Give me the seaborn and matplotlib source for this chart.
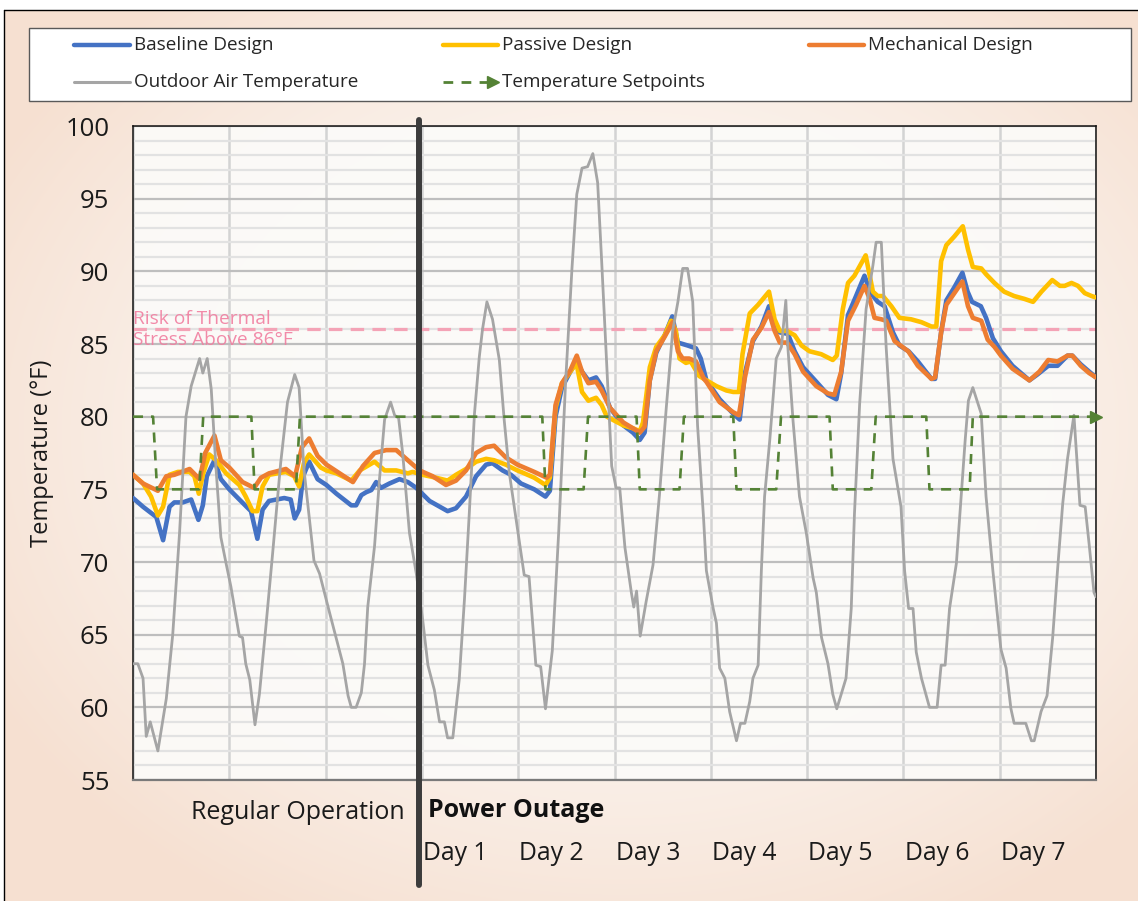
import numpy as np
import pandas as pd
import matplotlib
matplotlib.use("Agg")
import matplotlib.pyplot as plt
import seaborn as sns
from matplotlib.patches import Rectangle

# ---------------- data (hours since start, temperature in °F) ----------------
outdoor_hours = [0, 1.2, 2.5, 3.3, 4.3, 6.2, 8.3, 9.9, 11.6, 13.2, 14.5, 16.6, 17.4, 18.5, 19.5,
                 20.7, 21.9, 23.2, 24.4, 26.5, 27.3, 28.1, 29.1, 30.4, 31.5, 33.1, 34.8, 36.8,
                 38.5, 40.3, 41.4, 42.6, 45.1, 46.5, 49.0, 52.3, 53.6, 54.4, 55.6, 56.9, 57.7,
                 58.5, 60.2, 61.4, 62.7, 64.2, 65.2, 66.2, 67.2, 68.9, 70.6, 72.2, 73.5, 75.1,
                 76.4, 77.6, 78.4, 79.7, 81.3, 82.6, 83.8, 85.1, 86.3, 87.1, 88.2, 89.6, 91.3,
                 92.5, 93.8, 95.8, 97.5, 98.7, 100.4, 101.6, 102.8, 104.5, 106.1, 107.8, 109.4,
                 110.6, 111.9, 113.3, 114.6, 115.8, 116.8, 118.1, 119.3, 120.4, 121.3, 122.6,
                 124.2, 124.8, 125.5, 126.4, 127.9, 129.6, 131.2, 132.9, 134.5, 135.8, 137.0,
                 138.2, 139.5, 140.7, 142.2, 142.9, 144.6, 145.4, 146.2, 147.5, 148.7, 150.4,
                 151.4, 152.5, 153.7, 154.5, 155.8, 156.6, 157.4, 158.7, 160.3, 161.6, 162.7,
                 163.2, 164.5, 166.1, 167.8, 169.5, 170.3, 171.6, 173.2, 174.4, 175.4, 176.5,
                 177.7, 179.0, 179.8, 181.1, 182.7, 184.4, 185.2, 186.5, 187.7, 189.4, 190.6,
                 191.4, 192.3, 193.3, 194.4, 195.2, 196.5, 198.5, 200.4, 201.4, 202.4, 203.5,
                 205.2, 206.4, 207.4, 208.2, 209.3, 211.4, 212.6, 214.3, 216.3, 217.6, 218.8,
                 219.6, 222.5, 223.9, 224.6, 226.3, 227.8, 229.2, 230.4, 231.7, 232.9, 234.5,
                 236.0, 237.3, 238.3, 239.5, 240.0]
outdoor_temp = [63, 63, 62, 58, 59, 57, 60.6, 65, 72, 80, 82.1, 84, 83, 84, 81.9,
                76.4, 71.7, 69.9, 68.3, 64.9, 64.8, 63, 61.9, 58.8, 60.9, 65.5, 70.6, 76.8,
                81, 82.9, 82, 76.4, 70.1, 69.2, 66.5, 63, 60.8, 60, 60, 61, 63,
                66.9, 71.1, 75.6, 79.8, 81, 80.1, 79.9, 77.5, 72, 69.2, 66, 62.9, 61.2,
                59, 59, 57.9, 57.9, 61.9, 67.4, 73.3, 80.2, 84.1, 86, 87.9, 86.7, 83.9,
                79.8, 76.1, 72.3, 69.1, 69, 62.9, 62.8, 59.9, 63.9, 72.1, 82.3, 90.2,
                95.3, 97.1, 97.2, 98.1, 96.1, 90.7, 83.4, 76.6, 75.1, 75.1, 71,
                67.9, 66.9, 68, 64.9, 67.3, 69.8, 74.6, 80.6, 85.9, 87.9, 90.2,
                90.2, 87.9, 79.4, 73, 69.4, 66.8, 65.8, 62.7, 62, 59.7, 57.7,
                58.9, 58.9, 60.4, 62, 62.9, 69.4, 74.5, 78.4, 84, 84.8, 88,
                84.8, 79.7, 74.5, 72, 68.9, 67.9, 64.8, 63, 60.9, 59.9, 60.9,
                62, 66.8, 73.3, 80.9, 87.4, 90.4, 92, 92, 84.8, 77.1, 75.1,
                73.8, 69.4, 66.8, 66.8, 63.8, 62, 60, 60, 62.9, 62.9, 66.8,
                69.9, 74.5, 78.4, 81.1, 82, 80.2, 74.5, 69.4, 64, 62.7, 59.9,
                58.9, 58.9, 57.7, 57.7, 59.7, 60.8, 64.8, 69.4, 74, 77.1, 80.1,
                73.9, 73.8, 71.2, 67.9, 67.6]

baseline_hours = [0, 2.5, 5.8, 7.5, 9.1, 10.3, 12.4, 14.5, 16.3, 17.4, 18.4, 20.3, 21.9, 24.0,
                  26.5, 29.4, 31.0, 32.3, 33.9, 37.7, 39.3, 40.3, 41.4, 42.4, 43.9, 46.0, 48.2,
                  50.7, 54.4, 55.6, 56.9, 58.1, 59.4, 60.6, 61.8, 63.9, 66.4, 68.5, 70.6, 73.9,
                  78.4, 80.5, 83.0, 85.5, 88.0, 89.6, 92.1, 94.2, 96.7, 100.0, 102.8, 103.9,
                  105.3, 106.9, 109.0, 110.6, 111.9, 113.5, 115.4, 116.8, 118.9, 122.2, 124.6,
                  126.3, 127.5, 128.8, 130.4, 132.5, 134.4, 135.8, 138.2, 140.3, 141.5, 142.9,
                  146.2, 149.6, 151.2, 152.5, 154.5, 156.6, 158.5, 159.7, 161.2, 163.2, 164.9,
                  167.0, 170.3, 173.2, 175.3, 176.5, 178.2, 180.2, 182.3, 183.9, 185.6, 187.3,
                  189.4, 191.0, 193.3, 195.6, 199.0, 199.9, 201.4, 202.7, 204.7, 206.7, 208.0,
                  209.1, 211.3, 212.6, 214.3, 216.3, 219.2, 221.3, 223.4, 225.4, 228.1, 230.4,
                  232.9, 234.1, 236.2, 238.3, 240.0]
baseline_temp = [74.4, 73.8, 73.1, 71.5, 73.8, 74.1, 74.1, 74.3, 72.9, 73.9, 75.9, 77.0, 75.7, 75.0,
                 74.3, 73.5, 71.6, 73.6, 74.2, 74.4, 74.3, 73.0, 73.6, 75.9, 76.9, 75.7, 75.3,
                 74.7, 73.9, 73.9, 74.6, 74.8, 74.95, 75.5, 75.1, 75.4, 75.7, 75.5, 75.1, 74.2,
                 73.5, 73.7, 74.5, 75.9, 76.7, 76.8, 76.3, 76.0, 75.4, 75.0, 74.5, 74.9,
                 80.0, 82.0, 83.1, 83.8, 83.1, 82.5, 82.7, 82.1, 80.6, 79.4, 78.9,
                 78.4, 78.9, 82.5, 84.4, 85.6, 86.9, 85.1, 84.9, 84.7, 84.0, 82.5,
                 81.2, 80.2, 79.8, 83.0, 85.2, 86.2, 87.6, 86.3, 85.8, 85.7, 84.5,
                 83.4, 82.4, 81.5, 81.2, 83.0, 87.0, 88.3, 89.7, 88.5, 87.9, 87.6,
                 85.8, 84.9, 84.5, 83.8, 82.6, 82.6, 85.8, 88.0, 88.9, 89.9, 88.6,
                 87.9, 87.6, 86.8, 85.4, 84.5, 83.5, 83.0, 82.5, 82.9, 83.5, 83.5,
                 84.2, 84.2, 83.6, 83.1, 82.7]

passive_hours = [0, 2.5, 4.5, 6.2, 7.5, 9.1, 11.2, 14.1, 15.3, 16.4, 17.5, 19.0, 20.7, 23.2,
                 26.5, 28.1, 29.8, 31.0, 32.3, 33.9, 38.1, 40.2, 41.4, 42.6, 43.9, 46.8, 48.2,
                 50.7, 54.4, 56.5, 60.2, 62.7, 65.6, 68.5, 69.7, 72.2, 75.5, 78.4, 80.5, 83.0,
                 85.5, 88.0, 90.0, 92.9, 95.8, 96.7, 100.0, 102.8, 103.9, 105.3, 106.9, 109.0,
                 110.5, 111.9, 113.5, 115.4, 116.8, 118.1, 122.2, 124.6, 126.3, 127.1, 128.8,
                 130.4, 132.5, 134.1, 135.3, 136.2, 137.8, 139.0, 141.1, 142.9, 145.4, 147.9,
                 149.6, 151.0, 151.9, 153.7, 155.8, 158.5, 159.9, 161.2, 163.0, 164.9, 166.6,
                 168.6, 171.5, 174.4, 175.4, 176.9, 178.2, 179.8, 182.6, 184.4, 185.6, 186.9,
                 189.0, 191.0, 193.9, 196.5, 199.0, 200.2, 201.4, 202.7, 204.7, 206.8, 208.1,
                 209.3, 211.4, 212.6, 214.7, 217.1, 219.6, 222.2, 224.3, 226.4, 229.1, 231.0,
                 232.2, 233.9, 235.5, 237.2, 238.9, 240.0]
passive_temp = [76.0, 75.4, 74.5, 73.2, 73.8, 76.0, 76.2, 76.2, 75.9, 74.7, 76.1, 77.4, 77.0, 76.1,
                75.3, 74.5, 73.5, 73.5, 75.2, 76.0, 76.2, 75.9, 75.2, 76.8, 77.4, 76.5, 76.3,
                76.1, 75.6, 76.3, 76.9, 76.3, 76.3, 76.1, 76.2, 76.0, 75.8, 75.6, 76.0, 76.4,
                76.9, 77.1, 77.0, 76.7, 76.3, 76.2, 75.8, 75.3, 75.8, 80.6, 82.3, 83.1,
                83.7, 81.7, 81.1, 81.3, 80.8, 80.0, 79.4, 79.2, 79.0, 79.6, 83.4,
                84.8, 85.6, 86.6, 85.9, 84.0, 83.7, 83.8, 82.8, 82.5, 82.1, 81.8,
                81.7, 81.7, 84.3, 87.1, 87.7, 88.6, 86.7, 85.9, 85.9, 85.6, 84.9,
                84.5, 84.3, 83.9, 84.2, 87.4, 89.2, 89.7, 91.1, 88.6, 88.3, 88.3,
                87.6, 86.8, 86.7, 86.5, 86.2, 86.2, 90.7, 91.8, 92.4, 93.1, 91.5,
                90.3, 90.2, 89.8, 89.2, 88.6, 88.3, 88.1, 87.9, 88.6, 89.4, 89.0,
                89.0, 89.2, 89.0, 88.5, 88.3, 88.2]

mechanical_hours = [0, 2.5, 6.2, 8.3, 10.3, 14.1, 16.6, 18.0, 20.3, 21.9, 24.0, 27.3, 30.2, 31.9,
                    33.9, 38.1, 40.4, 42.1, 43.9, 46.0, 48.2, 51.5, 54.8, 57.3, 60.2, 63.1, 65.6,
                    68.5, 71.4, 74.7, 78.0, 80.5, 83.0, 85.5, 88.0, 90.0, 92.9, 95.8, 100.0,
                    103.1, 103.9, 105.3, 106.9, 109.0, 110.6, 111.9, 113.5, 115.4, 116.8, 118.9,
                    122.2, 124.6, 126.3, 127.5, 128.8, 130.4, 132.5, 134.5, 135.8, 137.0, 138.6,
                    140.3, 142.3, 142.9, 146.2, 149.6, 151.0, 152.5, 154.5, 156.6, 158.5, 159.9,
                    161.2, 163.0, 164.9, 167.0, 170.3, 173.2, 174.8, 176.5, 178.2, 180.2, 182.3,
                    183.6, 184.8, 186.5, 187.7, 189.8, 193.2, 195.6, 199.0, 199.9, 201.4, 202.7,
                    204.7, 206.7, 208.1, 209.3, 211.4, 213.0, 214.7, 216.3, 219.2, 221.3, 223.4,
                    225.9, 228.1, 230.4, 232.9, 234.1, 236.2, 238.3, 240.0]
mechanical_temp = [76.0, 75.4, 74.9, 75.9, 76.0, 76.4, 75.7, 77.5, 78.7, 77.0, 76.5, 75.5, 75.1, 75.8,
                   76.1, 76.4, 75.9, 77.9, 78.5, 77.3, 76.7, 76.1, 75.5, 76.6, 77.5, 77.7, 77.7,
                   77.0, 76.3, 75.9, 75.3, 75.6, 76.3, 77.5, 77.9, 78.0, 77.2, 76.7, 76.2,
                   75.8, 76.0, 80.8, 82.3, 83.2, 84.2, 83.1, 82.3, 82.4, 81.8, 80.6,
                   79.6, 79.2, 78.9, 79.3, 82.5, 84.5, 85.5, 86.5, 84.5, 84.0, 84.0,
                   83.8, 82.6, 82.4, 81.0, 80.3, 80.1, 82.7, 85.3, 86.1, 87.2, 85.9,
                   85.1, 85.1, 84.3, 83.1, 82.1, 81.6, 81.5, 83.1, 86.6, 87.7, 89.0,
                   88.1, 86.8, 86.7, 86.6, 85.2, 84.5, 83.5, 82.6, 82.7, 85.8, 87.7,
                   88.5, 89.3, 87.6, 86.8, 86.6, 85.3, 84.8, 84.2, 83.3, 82.9, 82.5,
                   83.1, 83.9, 83.8, 84.2, 84.2, 83.5, 83.0, 82.7]

setpoint_hours = [0, 5, 6, 16.5, 17.5, 29.5, 30.3, 40.6, 41.6, 102, 102.8, 112.3, 113.4,
                  125.5, 126.3, 136.2, 137.3, 149.6, 150.4, 160.3, 161.5, 173.6, 174.4,
                  184.0, 185.1, 197.7, 198.5, 208.5, 209.3, 240]
setpoint_temp = [80, 80, 75, 75, 80, 80, 75, 75, 80, 80, 75, 75, 80,
                 80, 75, 75, 80, 80, 75, 75, 80, 80, 75,
                 75, 80, 80, 75, 75, 80, 80]

risk_threshold = 86
outage_start_hour = 71.3
day_labels = ["Day 1", "Day 2", "Day 3", "Day 4", "Day 5", "Day 6", "Day 7"]
y_ticks = [55, 60, 65, 70, 75, 80, 85, 90, 95, 100]

# ---------------- style ----------------
BLUE, YELLOW, ORANGE = "#4472C4", "#FFC000", "#ED7D31"
GRAY, GREEN, PINK, PINK_TXT = "#A5A5A5", "#548235", "#F4A3B6", "#F17EA0"

sns.set_theme(style="white")
plt.rcParams["font.family"] = ["Open Sans", "DejaVu Sans"]

W, H = 1138, 901
fig = plt.figure(figsize=(W / 100, H / 100), dpi=100)

# background gradient
bg = fig.add_axes([0, 0, 1, 1], zorder=-10)
bg.axis("off")
yy, xx = np.mgrid[0:H, 0:W]
d = np.sqrt(((xx - 620) / 720.0) ** 2 + ((yy - 430) / 560.0) ** 2)
t = np.clip(d, 0, 1) ** 1.6
c0 = np.array([253, 251, 249]) / 255.0
c1 = np.array([246, 224, 209]) / 255.0
img = c0 + (c1 - c0) * t[..., None]
img[:10, :] = 1.0
img[:, :4] = 1.0
bg.imshow(img, extent=[0, W, H, 0], aspect="auto", interpolation="bilinear")
bg.set_xlim(0, W)
bg.set_ylim(H, 0)
bg.plot([4, W], [10, 10], color="black", lw=1.0)
bg.plot([4, 4], [10, H], color="black", lw=1.0)

# legend (pixel coordinates)
bg.add_patch(Rectangle((29, 28), 1102, 73, facecolor="white", edgecolor="#595959", lw=1.0))
leg_fs = 13.6
TXT = "#262626"
bg.plot([74, 130], [45, 45], color=BLUE, lw=3.2, solid_capstyle="round")
bg.text(134, 45, "Baseline Design", fontsize=leg_fs, va="center", ha="left", color=TXT)
bg.plot([443, 498], [45, 45], color=YELLOW, lw=3.2, solid_capstyle="round")
bg.text(502, 45, "Passive Design", fontsize=leg_fs, va="center", ha="left", color=TXT)
bg.plot([809, 864], [45, 45], color=ORANGE, lw=3.2, solid_capstyle="round")
bg.text(868, 45, "Mechanical Design", fontsize=leg_fs, va="center", ha="left", color=TXT)
bg.plot([74, 130], [82, 82], color=GRAY, lw=2.2, solid_capstyle="round")
bg.text(134, 82, "Outdoor Air Temperature", fontsize=leg_fs, va="center", ha="left", color=TXT)
bg.plot([443, 488], [82, 82], color=GREEN, lw=2.0, linestyle=(0, (3.5, 3)))
bg.plot([493], [82], marker=">", color=GREEN, markersize=8, linestyle="none")
bg.text(502, 82, "Temperature Setpoints", fontsize=leg_fs, va="center", ha="left", color=TXT)

# main axes
ax = fig.add_axes([133 / W, 1 - 780 / H, (1096 - 133) / W, (780 - 126) / H])
ax.set_facecolor("#FCFBF9")
ax.patch.set_alpha(0.92)

sns.lineplot(x=baseline_hours, y=baseline_temp, ax=ax, color=BLUE, linewidth=3.3,
             estimator=None, sort=False, zorder=3)
sns.lineplot(x=passive_hours, y=passive_temp, ax=ax, color=YELLOW, linewidth=3.3,
             estimator=None, sort=False, zorder=3)
sns.lineplot(x=mechanical_hours, y=mechanical_temp, ax=ax, color=ORANGE, linewidth=3.3,
             estimator=None, sort=False, zorder=3)
sns.lineplot(x=outdoor_hours, y=outdoor_temp, ax=ax, color=GRAY, linewidth=2.0,
             estimator=None, sort=False, zorder=4)
sns.lineplot(x=setpoint_hours, y=setpoint_temp, ax=ax, color=GREEN, linewidth=1.9,
             estimator=None, sort=False, zorder=5)
ax.lines[-1].set_linestyle((0, (3.8, 3.0)))
ax.plot([setpoint_hours[-1]], [setpoint_temp[-1]], marker=">", color=GREEN,
        markersize=9, linestyle="none", clip_on=False, zorder=6)

# risk threshold
ax.axhline(risk_threshold, color=PINK, lw=2.3, linestyle=(0, (4.2, 2.6)), zorder=2.5)
ax.text(0.1, risk_threshold, "Risk of Thermal\nStress Above 86°F", color=PINK_TXT,
        fontsize=13.8, va="center", ha="left", linespacing=1.25, zorder=2.6, alpha=0.9)

# outage marker
ax.axvline(outage_start_hour, ymin=-0.161, ymax=1.009, color="#3C3C3C", lw=4.3,
           clip_on=False, zorder=10)

# axes formatting
ax.set_xlim(0, 240)
ax.set_ylim(55, 100)
ax.set_yticks(y_ticks)
ax.set_yticks(range(55, 101), minor=True)
ax.set_xticks(range(0, 241, 24))
ax.set_xticklabels([])
ax.grid(which="minor", axis="y", color="#E2E2E2", lw=1.6)
ax.grid(which="major", axis="y", color="#BEBEBE", lw=1.6)
ax.grid(which="major", axis="x", color="#D3D3D3", lw=1.8)
ax.set_axisbelow(True)
ax.tick_params(axis="both", which="both", length=0)
ax.tick_params(axis="y", labelsize=18.5, pad=17, labelcolor="#1A1A1A")
ax.set_xlabel("")
ax.set_ylabel("Temperature (°F)", fontsize=17, color="#1A1A1A")
ax.yaxis.set_label_coords(-0.082, 0.5)
for side in ["left", "top", "right"]:
    ax.spines[side].set_color("#111111")
    ax.spines[side].set_linewidth(1.1)
ax.spines["bottom"].set_color("#7A7A7A")
ax.spines["bottom"].set_linewidth(1.6)

xt = ax.get_xaxis_transform()
ax.text(67.7, -0.05, "Regular Operation", transform=xt, ha="right", va="center",
        fontsize=18, color="#1A1A1A", clip_on=False)
ax.text(73.4, -0.047, "Power Outage", transform=xt, ha="left", va="center",
        fontsize=18, fontweight="bold", color="#111111", clip_on=False)
for i, lab in enumerate(day_labels):
    ax.text(72 + 24 * i + 0.3, -0.113, lab, transform=xt, ha="left", va="center",
            fontsize=17.8, color="#1A1A1A", clip_on=False)

fig.savefig("out.png", dpi=100)
